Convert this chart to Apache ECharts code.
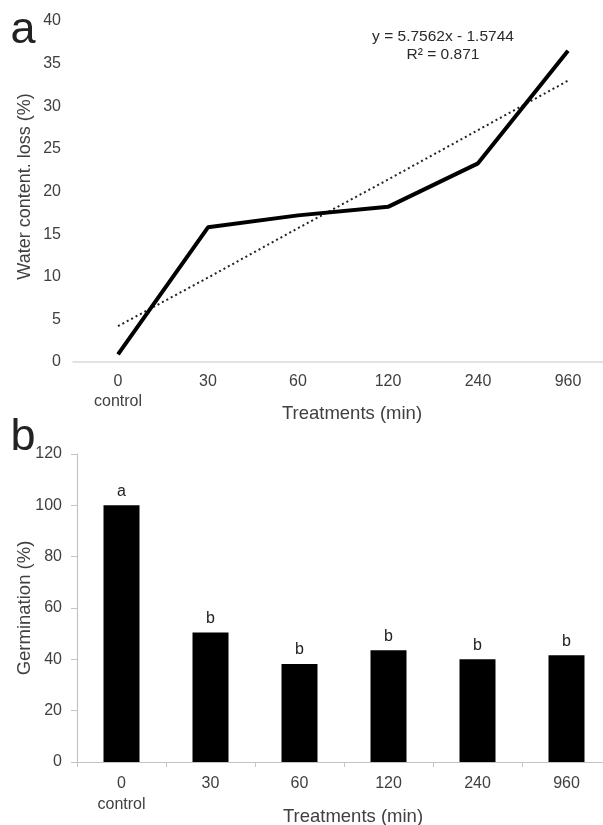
<!DOCTYPE html>
<html>
<head>
<meta charset="utf-8">
<script src="https://cdn.jsdelivr.net/npm/echarts@6/dist/echarts.min.js"></script>
<style>
html,body{margin:0;padding:0;background:#fff;overflow:hidden;}
#chart{width:625px;height:825px;}
</style>
</head>
<body>
<div id="chart"></div>
<script>
// ---- data ----
var categories = ['0\ncontrol', '30', '60', '120', '240', '960'];
var waterLoss = [0.9, 15.8, 17.2, 18.2, 23.3, 36.5];
var trendLine = [4.2, 9.9, 15.7, 21.4, 27.2, 33.0];
var germination = [100, 50.5, 38.2, 43.5, 40.0, 41.6];
var letters = ['a', 'b', 'b', 'b', 'b', 'b'];
var equationText = 'y = 5.7562x - 1.5744';
var r2Text = 'R² = 0.871';

var FONT = "'Liberation Sans', Arial, sans-serif";
var TXT = '#404040';

var chart = echarts.init(document.getElementById('chart'), null, {renderer: 'canvas'});

var option = {
  backgroundColor: '#ffffff',
  animation: false,
  textStyle: {fontFamily: FONT},
  grid: [
    {left: 73, top: 21, width: 540, height: 341, containLabel: false, outerBoundsMode: 'none'},
    {left: 77, top: 454, width: 534, height: 308, containLabel: false, outerBoundsMode: 'none'}
  ],
  xAxis: [
    {
      type: 'category', gridIndex: 0, data: categories, boundaryGap: true,
      axisLine: {show: true, lineStyle: {color: '#d9d9d9', width: 1.5}},
      axisTick: {show: false},
      axisLabel: {color: TXT, fontSize: 16, margin: 10, lineHeight: 20, fontFamily: FONT},
      name: 'Treatments (min)', nameLocation: 'middle', nameGap: 42, nameMoveOverlap: false,
      nameTextStyle: {color: TXT, fontSize: 18.5, fontFamily: FONT, padding: [0, 0, 0, 18]}
    },
    {
      type: 'category', gridIndex: 1, data: categories, boundaryGap: true,
      axisLine: {show: true, lineStyle: {color: '#c4c4c4', width: 1.2}},
      axisTick: {show: true, length: 5, lineStyle: {color: '#c4c4c4'}},
      axisLabel: {color: TXT, fontSize: 16, margin: 11, lineHeight: 21, fontFamily: FONT},
      name: 'Treatments (min)', nameLocation: 'middle', nameGap: 45, nameMoveOverlap: false,
      nameTextStyle: {color: TXT, fontSize: 18.5, fontFamily: FONT, padding: [0, 0, 0, 18]}
    }
  ],
  yAxis: [
    {
      type: 'value', gridIndex: 0, min: 0, max: 40, interval: 5,
      axisLine: {show: false}, axisTick: {show: false}, splitLine: {show: false},
      axisLabel: {color: TXT, fontSize: 16, margin: 12, fontFamily: FONT},
      name: 'Water content. loss (%)', nameLocation: 'middle', nameGap: 39, nameMoveOverlap: false,
      nameTextStyle: {color: TXT, fontSize: 18, fontFamily: FONT, padding: [0, 0, 0, 10]}
    },
    {
      type: 'value', gridIndex: 1, min: 0, max: 120, interval: 20,
      axisLine: {show: true, lineStyle: {color: '#c4c4c4', width: 1.2}},
      axisTick: {show: true, length: 6, lineStyle: {color: '#c4c4c4'}},
      splitLine: {show: false},
      axisLabel: {color: TXT, fontSize: 16, margin: 15, fontFamily: FONT},
      name: 'Germination (%)', nameLocation: 'middle', nameGap: 43, nameMoveOverlap: false,
      nameTextStyle: {color: TXT, fontSize: 18.5, fontFamily: FONT}
    }
  ],
  series: [
    {
      name: 'Water content loss', type: 'line', xAxisIndex: 0, yAxisIndex: 0,
      data: waterLoss, showSymbol: false, symbol: 'none',
      lineStyle: {color: '#000', width: 4}, z: 3
    },
    {
      name: 'Linear trend', type: 'line', xAxisIndex: 0, yAxisIndex: 0,
      data: trendLine, showSymbol: false, symbol: 'none',
      lineStyle: {color: '#222', width: 2, type: [2, 3]}, z: 2
    },
    {
      name: 'Germination', type: 'bar', xAxisIndex: 1, yAxisIndex: 1,
      data: germination, barWidth: 36,
      itemStyle: {color: '#000'},
      label: {
        show: true, position: 'top', distance: 6, color: '#222', fontSize: 16, fontFamily: FONT,
        formatter: function (p) { return letters[p.dataIndex]; }
      }
    }
  ],
  graphic: [
    {type: 'text', style: {text: equationText, x: 443, y: 37, fill: '#2a2a2a', font: '15.5px ' + FONT, align: 'center', verticalAlign: 'middle'}},
    {type: 'text', style: {text: r2Text, x: 443, y: 55, fill: '#2a2a2a', font: '15.5px ' + FONT, align: 'center', verticalAlign: 'middle'}},
    {type: 'text', style: {text: 'a', x: 23, y: 31, fill: '#222', font: '45px ' + FONT, align: 'center', verticalAlign: 'middle'}},
    {type: 'text', style: {text: 'b', x: 23, y: 438, fill: '#222', font: '45px ' + FONT, align: 'center', verticalAlign: 'middle'}}
  ]
};
chart.setOption(option);
</script>
</body>
</html>
